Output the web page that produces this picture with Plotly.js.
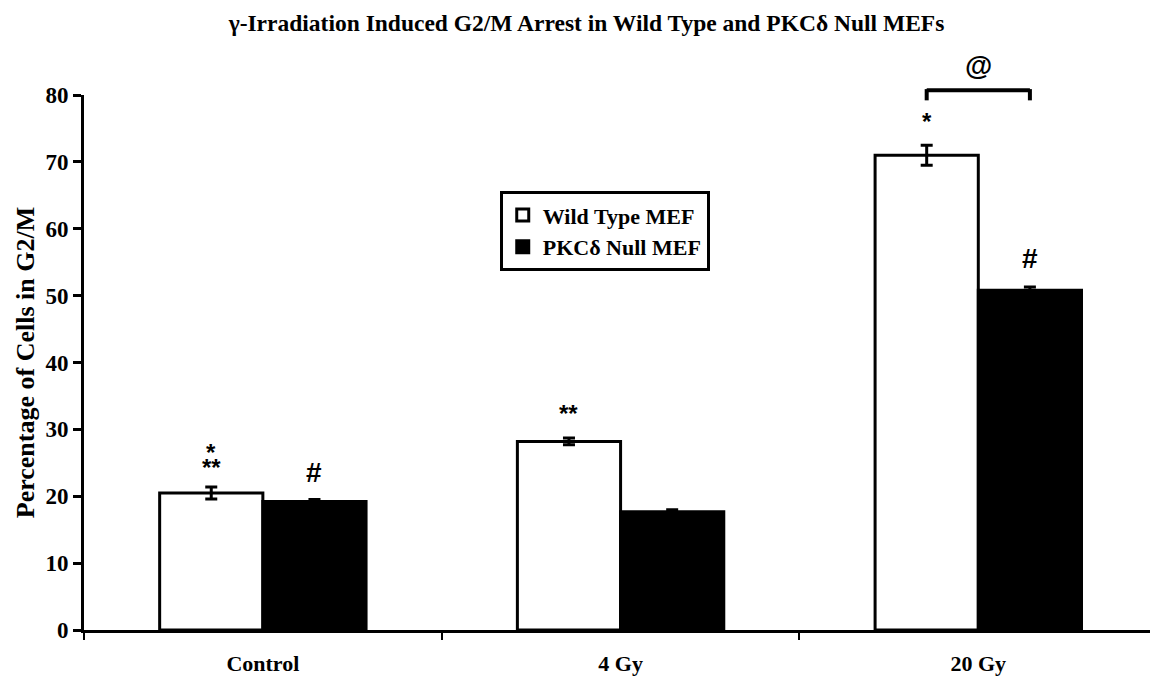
<!DOCTYPE html>
<html>
<head>
<meta charset="utf-8">
<script src="https://cdn.plot.ly/plotly-3.0.1.min.js"></script>
<style>html,body{margin:0;padding:0;background:#fff;}#chart{width:1150px;height:679px;}</style>
</head>
<body>
<div id="chart"></div>
<script>
// ---- data ----
const categories = ["Control", "4 Gy", "20 Gy"];
const seriesNames = ["Wild Type MEF", "PKCδ Null MEF"];
const wildType = [20.5, 28.2, 71.0];
const wildTypeErr = [0.9, 0.5, 1.5];
const pkcNull = [19.2, 17.7, 50.8];
const pkcNullErr = [0.3, 0.3, 0.5];
const yTicks = [0, 10, 20, 30, 40, 50, 60, 70, 80];
// significance marks: [category index, series index (0 WT, 1 null), text, y value]
const marks = [
  [0, 0, "**", 24.3],
  [0, 0, "*", 26.6],
  [0, 1, "#", 23.6],
  [1, 0, "**", 32.3],
  [2, 0, "*", 76.0],
  [2, 1, "#", 55.6]
];
const bracketCategory = 2;
const bracketLabel = "@";

const bargap = 0.423;
const offset = (1 - bargap) / 4;
const serif = "Liberation Serif, Times New Roman, serif";
const sans = "Liberation Sans, Arial, sans-serif";

const traces = [
  {
    type: "bar", name: seriesNames[0], x: categories, y: wildType,
    marker: {color: "#ffffff", line: {color: "#000000", width: 3}},
    error_y: {type: "data", array: wildTypeErr, visible: true, color: "#000000", thickness: 3, width: 6}
  },
  {
    type: "bar", name: seriesNames[1], x: categories, y: pkcNull,
    marker: {color: "#000000", line: {color: "#000000", width: 3}},
    error_y: {type: "data", array: pkcNullErr, visible: true, color: "#000000", thickness: 3, width: 6}
  }
];

const annotations = marks.map(m => ({
  x: m[0] + (m[1] === 0 ? -offset : offset),
  y: m[3], xref: "x", yref: "y", yanchor: "middle",
  text: m[2], showarrow: false,
  font: {family: sans, size: m[2] === "#" ? 28 : 24, color: "#000"}
}));
annotations.push({
  x: bracketCategory, y: 1.056, xref: "x", yref: "paper", yanchor: "middle",
  text: bracketLabel, showarrow: false,
  font: {family: sans, size: 28, color: "#000"}
});

const bx0 = bracketCategory - offset, bx1 = bracketCategory + offset;
const shapes = [
  {type: "line", xref: "x", yref: "paper", x0: bx0, x1: bx1, y0: 1.009, y1: 1.009, line: {color: "#000", width: 4}},
  {type: "line", xref: "x", yref: "paper", x0: bx0, x1: bx0, y0: 1.011, y1: 0.99, line: {color: "#000", width: 4}},
  {type: "line", xref: "x", yref: "paper", x0: bx1, x1: bx1, y0: 1.011, y1: 0.99, line: {color: "#000", width: 4}}
];

const layout = {
  width: 1150, height: 679,
  margin: {l: 84, r: 0, t: 95, b: 49},
  paper_bgcolor: "#fff", plot_bgcolor: "#fff",
  barmode: "group", bargap: bargap, bargroupgap: 0,
  font: {family: serif, color: "#000", weight: "bold"},
  title: {
    text: "γ-Irradiation Induced G2/M Arrest in Wild Type and PKCδ Null MEFs",
    font: {family: serif, size: 23.5, weight: "bold", color: "#000"},
    x: 0.51, xref: "container", y: 0.967, yref: "container", yanchor: "middle"
  },
  xaxis: {
    type: "category", range: [-0.5, 2.48],
    showline: true, linecolor: "#000", linewidth: 3,
    ticks: "outside", tickson: "boundaries", ticklen: 7, tickwidth: 2, tickcolor: "#000",
    tickfont: {family: serif, size: 22, weight: "bold", color: "#000"},
    ticklabelstandoff: 12,
    showgrid: false, zeroline: false, fixedrange: true
  },
  yaxis: {
    range: [0, 80], tickvals: yTicks,
    showline: true, linecolor: "#000", linewidth: 3,
    ticks: "outside", ticklen: 8, tickwidth: 3, tickcolor: "#000",
    tickfont: {family: serif, size: 23, weight: "bold", color: "#000"},
    showgrid: false, zeroline: false,
    title: {text: "Percentage of Cells in G2/M", font: {family: serif, size: 26, weight: "bold", color: "#000"}, standoff: 4}
  },
  legend: {
    x: 0.39, y: 0.82, xanchor: "left", yanchor: "top",
    bgcolor: "#fff", bordercolor: "#000", borderwidth: 3,
    font: {family: serif, size: 22, weight: "bold", color: "#000"},
    traceorder: "normal", itemwidth: 30
  },
  annotations: annotations,
  shapes: shapes
};

Plotly.newPlot("chart", traces, layout, {displayModeBar: false, staticPlot: true});
</script>
</body>
</html>
